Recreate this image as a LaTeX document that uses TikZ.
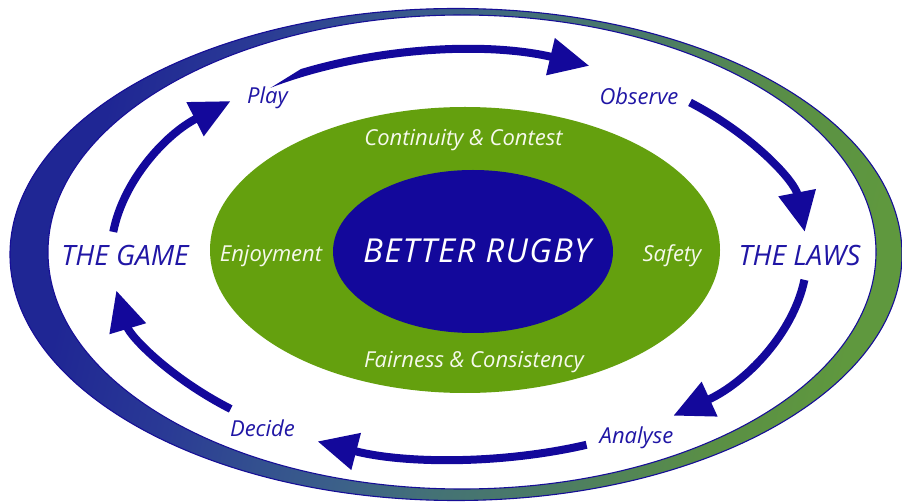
\documentclass[tikz,border=0pt]{standalone}
\usepackage{fontspec}
\setmainfont{Open Sans}
\newfontfamily\corefont[LetterSpace=4]{Open Sans}
\usetikzlibrary{arrows.meta,calc}

\definecolor{deepblue}{RGB}{19,8,155}
\definecolor{fieldgreen}{RGB}{100,160,14}
\definecolor{labelblue}{RGB}{32,22,165}
\definecolor{ringA}{RGB}{31,38,148}
\definecolor{ringB}{RGB}{42,58,149}
\definecolor{ringC}{RGB}{51,80,143}
\definecolor{ringD}{RGB}{61,99,136}
\definecolor{ringE}{RGB}{68,114,117}
\definecolor{ringF}{RGB}{74,122,104}
\definecolor{ringG}{RGB}{90,143,69}
\definecolor{ringH}{RGB}{95,152,62}
\definecolor{ringedge}{RGB}{22,14,150}
\definecolor{softwhite}{RGB}{246,249,236}

% colour run of the outer band: blue on the left, green on the right
\pgfdeclarehorizontalshading{ringfade}{100bp}{%
  color(0bp)=(ringA); color(27bp)=(ringA); color(35bp)=(ringB);
  color(41bp)=(ringC); color(47bp)=(ringD); color(52bp)=(ringE);
  color(58bp)=(ringF); color(68bp)=(ringG); color(75bp)=(ringH);
  color(100bp)=(ringH)}

\begin{document}
\begin{tikzpicture}[x=1pt,y=1pt,
  cyc/.style={draw=deepblue, line width=8pt, -{Triangle[length=40pt,width=36pt]}},
  steplabel/.style={text=labelblue, anchor=base, inner sep=0pt,
    font=\itshape\fontsize{22}{24}\selectfont},
  sidelabel/.style={text=labelblue, anchor=base, inner sep=0pt,
    font=\itshape\fontsize{28}{32}\selectfont},
  valuelabel/.style={text=softwhite, anchor=base, inner sep=0pt,
    font=\itshape\fontsize{22}{24}\selectfont},
  corelabel/.style={text=white, anchor=base, inner sep=0pt,
    font=\corefont\itshape\fontsize{33}{36}\selectfont}]

\useasboundingbox (0,0) rectangle (902,501);

% outer band
\shade[shading=ringfade, shading angle=-13] (456,246.5) ellipse [x radius=446, y radius=246];
\fill[white] (462,249) ellipse [x radius=414, y radius=237];
\draw[ringedge, line width=1.1pt] (456,246.5) ellipse [x radius=446, y radius=246];
\draw[ringedge, line width=1.1pt] (462,249) ellipse [x radius=414, y radius=237];

% inner field and core
\fill[fieldgreen] (465,251) ellipse [x radius=255, y radius=143];
\fill[deepblue] (473,249.5) ellipse [x radius=140, y radius=81.5];

% labels
\node[corelabel] (core) at (477,238) {BETTER RUGBY};
\node[valuelabel] (continuity) at (463.5,355) {Continuity \& Contest};
\node[valuelabel] (fairness) at (474,133) {Fairness \& Consistency};
\node[valuelabel] (enjoyment) at (271,239) {Enjoyment};
\node[valuelabel] (safety) at (672,239) {Safety};
\node[sidelabel] (game) at (125,235) {THE GAME};
\node[sidelabel] (laws) at (799.5,235) {THE LAWS};
\node[steplabel] (play) at (267.5,397) {Play};
\node[steplabel] (observe) at (639,396) {Observe};
\node[steplabel] (decide) at (262.5,64.5) {Decide};
\node[steplabel] (analyse) at (636.5,58) {Analyse};

% ends of the cycle arrows, on one ellipse round the field
\coordinate (C) at (459,246);
\coordinate (gameOut)    at ($(C)+(173.5:348 and 204)$);
\coordinate (playIn)     at ($(C)+(131:348 and 204)$);
\coordinate (playOut)    at ($(C)+(124:348 and 204)$);
\coordinate (observeIn)  at ($(C)+(68:348 and 204)$);
\coordinate (observeOut) at ($(C)+(48.4:348 and 204)$);
\coordinate (lawsIn)     at ($(C)+(6.5:348 and 204)$);
\coordinate (lawsOut)    at ($(C)+(-7:348 and 204)$);
\coordinate (analyseIn)  at ($(C)+(-52:348 and 204)$);
\coordinate (analyseOut) at ($(C)+(-68.5:348 and 204)$);
\coordinate (decideIn)   at ($(C)+(-114:348 and 204)$);
\coordinate (decideOut)  at ($(C)+(229:348 and 204)$);
\coordinate (gameIn)     at ($(C)+(190:348 and 204)$);

% cycle arrows (clockwise)
\draw[cyc] (gameOut) to[out=79, in=207, out distance=51.6pt, in distance=73.7pt] (playIn);
\begin{scope}
  % slanted cut gives the Play arrow its pointed tail
  \clip (0,0) -- (0,245) -- (560,593) -- (902,593) -- (902,0) -- cycle;
  \draw[cyc] (playOut) to[out=21.6, in=166.7, out distance=103.1pt, in distance=110.2pt] (observeIn);
\end{scope}
\draw[cyc] (observeOut) to[out=-27.5, in=101, out distance=72.3pt, in distance=50.9pt] (lawsIn);
\draw[cyc] (lawsOut) to[out=258.2, in=24.6, out distance=54.9pt, in distance=80pt] (analyseIn);
\draw[cyc] (analyseOut) to[out=193, in=345.4, out distance=89.2pt, in distance=88.2pt] (decideIn);
\draw[cyc] (decideOut) to[out=153, in=286.7, out distance=67.5pt, in distance=48.1pt] (gameIn);

\end{tikzpicture}
\end{document}
